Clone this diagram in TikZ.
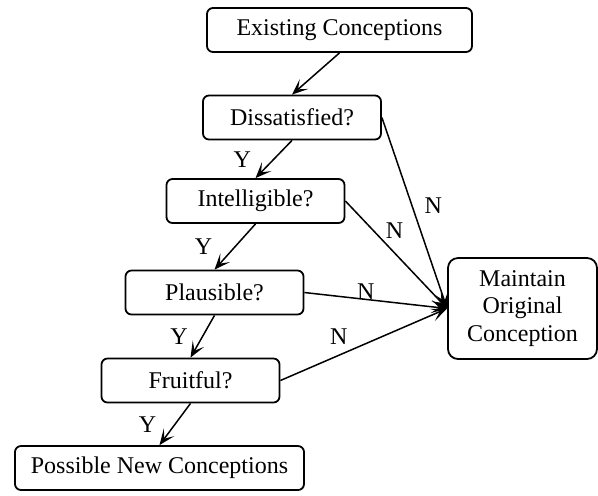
\documentclass[tikz,border=0pt]{standalone}
\usepackage{fontspec}
\setmainfont{Liberation Serif}
\usetikzlibrary{arrows.meta}

\begin{document}
\begin{tikzpicture}[x=0.5pt, y=-0.5pt,
        box/.style={draw, line width=0.9pt, rounded corners=3pt, minimum height=22pt, inner sep=0pt, font=\fontsize{12}{13.8}\selectfont},
        qbox/.style={box, minimum width=89pt},
        lbl/.style={inner sep=1pt, font=\fontsize{12}{13.8}\selectfont},
        arr/.style={line width=0.75pt, -{Stealth[length=8pt, width=6.5pt, inset=4pt]}}]
        \useasboundingbox (0,0) rectangle (598,495);
        % boxes
        \node[box, minimum width=132.5pt] (exist) at (339.5,30) {Existing Conceptions};
        \node[qbox] (dissat) at (292,117.5) {Dissatisfied?};
        \node[qbox] (intel) at (255.5,201) {Intelligible?};
        \node[qbox] (plaus) at (214.5,292.5) {Plausible?};
        \node[qbox] (fruit) at (190.5,380.5) {Fruitful?};
        \node[box, minimum width=144.5pt] (newcon) at (159.5,468) {Possible New Conceptions};
        \node[box, rounded corners=5pt, minimum width=74.5pt, minimum height=50.5pt, align=center] (maintain) at (522.5,308.5) {Maintain\\Original\\Conception};
        % yes branch
        \draw[arr] (exist.south) -- (dissat.north);
        \draw[arr] (dissat.south) -- node[lbl, left=10pt] {Y} (intel.north);
        \draw[arr] (intel.south) -- node[lbl, left=10pt] {Y} (plaus.north);
        \draw[arr] (plaus.south) -- node[lbl, left=6pt] {Y} (fruit.north);
        \draw[arr] (fruit.south) -- node[lbl, left=8pt] {Y} (newcon.north);
        % no branch
        \draw[arr] (dissat.east) -- node[lbl, pos=0.46, right=5pt] {N} (maintain.west);
        \draw[arr] (intel.east) -- node[lbl, pos=0.37, above right=0pt] {N} (maintain.west);
        \draw[arr] (plaus.east) -- node[lbl, pos=0.43, anchor=base] {N} (maintain.west);
        \draw[arr] (fruit.east) -- node[lbl, pos=0.35, above=3.8pt] {N} (maintain.west);
\end{tikzpicture}
\end{document}
